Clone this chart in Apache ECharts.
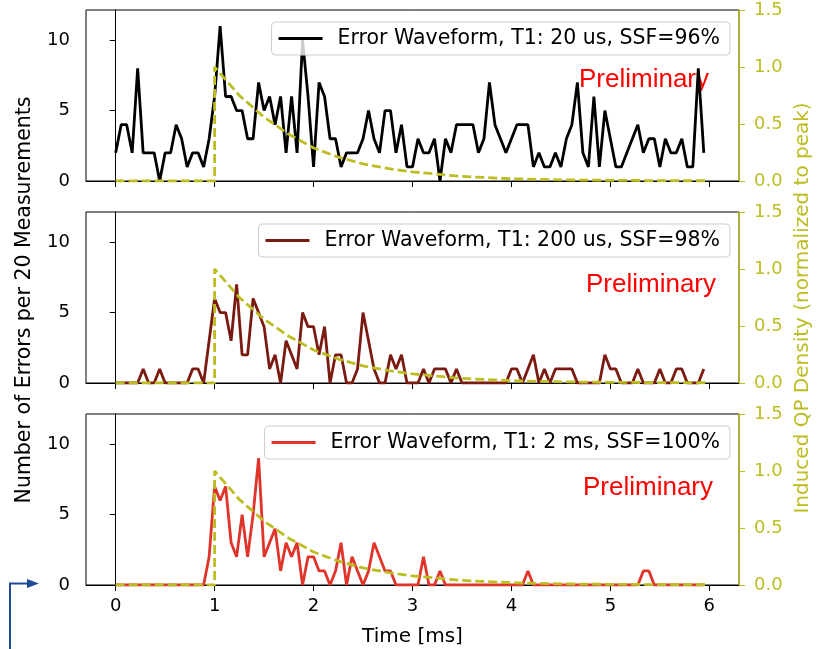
<!DOCTYPE html>
<html>
<head>
<meta charset="utf-8">
<script src="https://cdn.jsdelivr.net/npm/echarts@6/dist/echarts.min.js"></script>
<style>
  html, body { margin: 0; padding: 0; background: #fff; }
  #chart { width: 819px; height: 649px; }
</style>
</head>
<body>
<div id="chart"></div>
<script>
// errors per 20 measurements, one bin every 1/18 ms
const errs20us = [
  2, 4, 4, 2, 8, 2, 2, 2, 0, 2,
  2, 4, 3, 1, 2, 2, 1, 3, 6, 11,
  6, 6, 5, 5, 3, 3, 7, 5, 6, 4,
  6, 2, 6, 2, 10, 6, 1, 7, 6, 3,
  3, 1, 2, 2, 2, 3, 5, 3, 2, 5,
  5, 2, 4, 1, 1, 3, 2, 2, 3, 0,
  3, 2, 4, 4, 4, 4, 2, 3, 7, 4,
  3, 2, 3, 4, 4, 4, 1, 2, 1, 1,
  2, 1, 3, 4, 7, 2, 1, 6, 1, 5,
  3, 1, 1, 2, 3, 4, 2, 3, 3, 1,
  3, 2, 2, 3, 1, 1, 8, 2
]
const errs200us = [
  0, 0, 0, 0, 0, 1, 0, 0, 1, 0,
  0, 0, 0, 0, 1, 1, 0, 3, 6, 5,
  5, 3, 7, 2, 2, 6, 5, 4, 1, 2,
  0, 3, 2, 1, 5, 4, 4, 2, 4, 0,
  2, 2, 0, 0, 1, 5, 3, 1, 0, 0,
  2, 1, 2, 0, 0, 0, 1, 0, 1, 1,
  1, 0, 1, 0, 0, 0, 0, 0, 0, 0,
  0, 0, 1, 1, 0, 1, 2, 0, 1, 0,
  1, 1, 1, 1, 0, 0, 0, 0, 0, 2,
  1, 1, 0, 0, 0, 1, 0, 0, 0, 1,
  0, 0, 1, 1, 0, 0, 0, 1
]
const errs2ms = [
  0, 0, 0, 0, 0, 0, 0, 0, 0, 0,
  0, 0, 0, 0, 0, 0, 0, 2, 7, 6,
  7, 3, 2, 5, 2, 5, 9, 2, 3, 4,
  1, 3, 2, 3, 0, 2, 2, 1, 1, 0,
  1, 3, 0, 2, 1, 0, 1, 3, 2, 1,
  1, 0, 0, 0, 0, 0, 2, 0, 0, 1,
  0, 0, 0, 0, 0, 0, 0, 0, 0, 0,
  0, 0, 0, 0, 0, 1, 0, 0, 0, 0,
  0, 0, 0, 0, 0, 0, 0, 0, 0, 0,
  0, 0, 0, 0, 0, 0, 1, 1, 0, 0,
  0, 0, 0, 0, 0, 0, 0, 0
]
const binTime = errs20us.map((_, i) => i / 18)

// induced QP density, normalized to peak
const qpTime    = [0, 1, 1,   1.25, 1.5,  1.75, 2,    2.25, 2.5,  2.75, 3,    3.5,  4,    4.5,  5,     5.5,   6]
const qpDensity = [0, 0, 1.0, 0.75, 0.56, 0.41, 0.29, 0.21, 0.15, 0.11, 0.08, 0.04, 0.02, 0.01, 0.006, 0.003, 0.002]

const xTicks = [0, 1, 2, 3, 4, 5, 6]
const leftTicks = [0, 5, 10]

const panels = [
  { name: 'Error Waveform, T1: 20 us, SSF=96%', color: '#000000', values: errs20us, top: 10, prelimX: 579, prelimY: 80 },
  { name: 'Error Waveform, T1: 200 us, SSF=98%', color: '#7a1a10', values: errs200us, top: 212, prelimX: 586, prelimY: 285 },
  { name: 'Error Waveform, T1: 2 ms, SSF=100%', color: '#e0332a', values: errs2ms, top: 414, prelimX: 583, prelimY: 488 }
]

const olive = '#bcbd22'
const font = 'DejaVu Sans'

const chart = echarts.init(document.getElementById('chart'))

const grid = [], xAxis = [], yAxis = [], series = [], legend = [], graphic = []

panels.forEach((p, k) => {
  const last = k === panels.length - 1
  grid.push({ left: 86, right: 80, top: p.top, height: 171, show: true, borderColor: '#000', borderWidth: 1 })
  xAxis.push({
    gridIndex: k, type: 'value', min: -0.3, max: 6.3,
    axisLine: { lineStyle: { color: '#000', width: 1 } },
    axisTick: { customValues: xTicks, length: 6, lineStyle: { color: '#000' } },
    axisLabel: { show: last, customValues: xTicks, color: '#000', fontSize: 18, fontFamily: font, margin: 12 },
    splitLine: { show: false },
    name: last ? 'Time [ms]' : '', nameLocation: 'middle', nameGap: 42,
    nameTextStyle: { color: '#000', fontSize: 20, fontFamily: font }
  })
  yAxis.push({
    gridIndex: k, type: 'value', min: 0, max: 12.14, position: 'left',
    axisLine: { show: true, lineStyle: { color: '#000' } },
    axisTick: { show: true, customValues: leftTicks, length: 6, lineStyle: { color: '#000' } },
    axisLabel: { customValues: leftTicks, color: '#000', fontSize: 18, fontFamily: font, margin: 16 },
    splitLine: { show: false }
  })
  yAxis.push({
    gridIndex: k, type: 'value', min: 0, max: 1.5, interval: 0.5, position: 'right',
    axisLine: { show: true, lineStyle: { color: olive, width: 1.5 } },
    axisTick: { show: true, length: 6, lineStyle: { color: olive } },
    axisLabel: { color: olive, fontSize: 18, fontFamily: font, margin: 15, formatter: v => v.toFixed(1) },
    splitLine: { show: false }
  })
  series.push({
    type: 'line', name: p.name, xAxisIndex: k, yAxisIndex: 2 * k,
    data: binTime.map((t, i) => [t, p.values[i]]),
    showSymbol: false, lineStyle: { color: p.color, width: 2.8 }, itemStyle: { color: p.color },
    z: 2
  })
  series.push({
    type: 'line', xAxisIndex: k, yAxisIndex: 2 * k + 1,
    data: qpTime.map((t, i) => [t, qpDensity[i]]),
    showSymbol: false, lineStyle: { color: olive, width: 2.8, type: [9, 4] },
    z: 3
  })
  legend.push({
    data: [p.name], right: 89, top: p.top + 12,
    icon: 'rect', itemWidth: 44, itemHeight: 3,
    padding: [6, 10, 6, 7], borderColor: '#cccccc', borderWidth: 1, borderRadius: 4,
    backgroundColor: 'rgba(255,255,255,0.8)',
    textStyle: { color: '#000', fontSize: 20.5, fontFamily: font, padding: [0, 0, 0, 10] },
    selectedMode: false
  })
  graphic.push({
    type: 'text', x: p.prelimX, y: p.prelimY,
    style: { text: 'Preliminary', fill: '#ff0000', font: '26px "Liberation Sans"', verticalAlign: 'middle' }
  })
})

graphic.push({
  type: 'text', x: 25, y: 300, rotation: Math.PI / 2,
  style: { text: 'Number of Errors per 20 Measurements', fill: '#000', font: '20.5px "DejaVu Sans"', align: 'center', verticalAlign: 'middle' }
})
graphic.push({
  type: 'text', x: 803, y: 308, rotation: Math.PI / 2,
  style: { text: 'Induced QP Density (normalized to peak)', fill: olive, font: '20px "DejaVu Sans"', align: 'center', verticalAlign: 'middle' }
})
// blue marker arrow in the lower left corner
graphic.push({
  type: 'polyline', shape: { points: [[10, 649], [10, 583.5], [28, 583.5]] },
  style: { stroke: '#1f4a96', lineWidth: 2, fill: null }
})
graphic.push({
  type: 'polygon', shape: { points: [[27, 579], [39, 583.5], [27, 588]] },
  style: { fill: '#1f4a96' }
})

chart.setOption({
  animation: false,
  backgroundColor: '#fff',
  grid, xAxis, yAxis, series, legend, graphic
})
</script>
</body>
</html>
